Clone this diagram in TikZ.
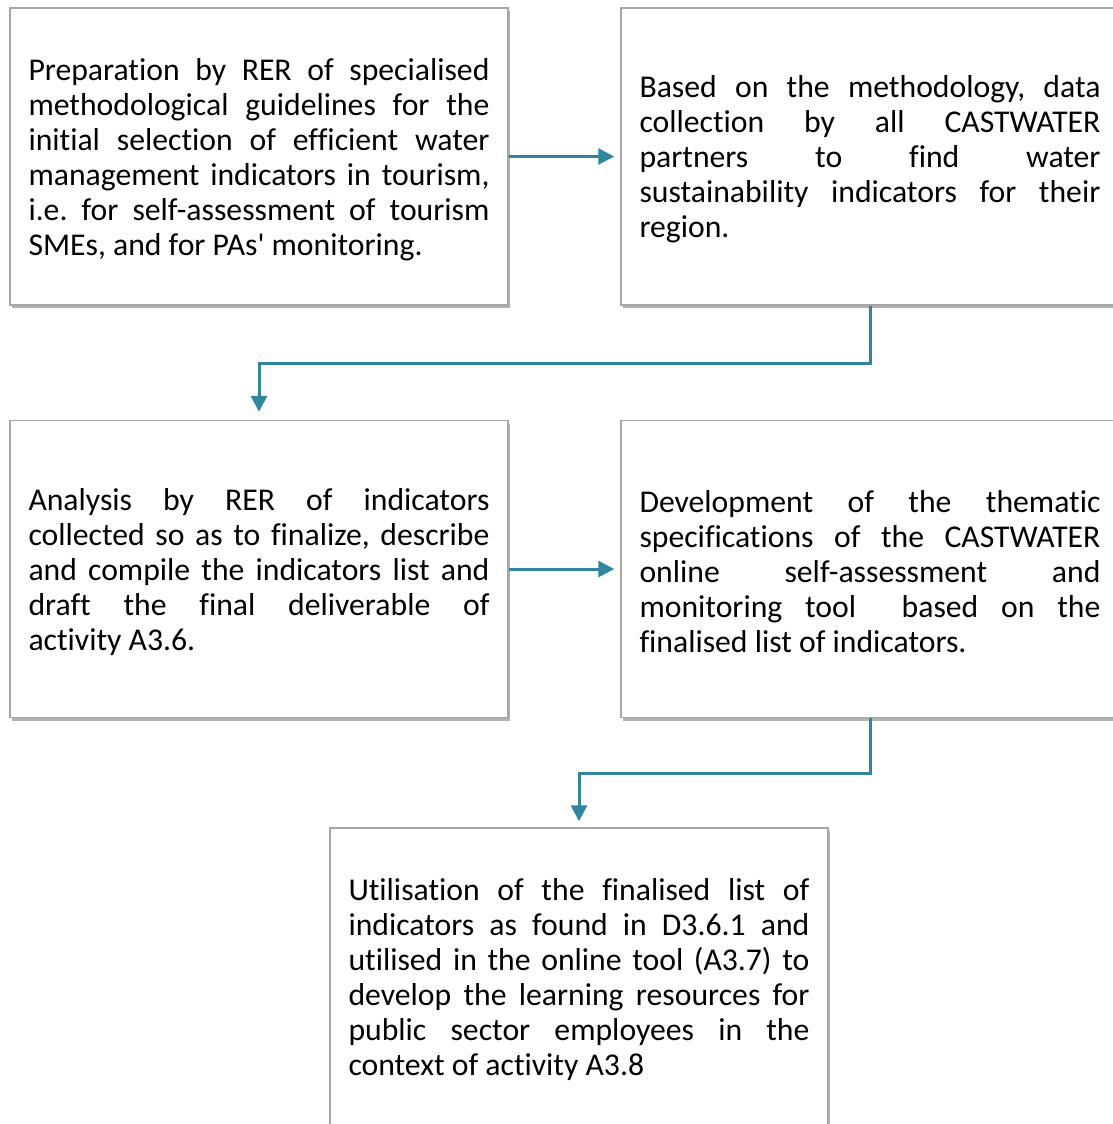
\documentclass[tikz,border=0pt]{standalone}
\usepackage{fontspec}
\setmainfont{Carlito}[Ligatures=NoCommon]
\usetikzlibrary{arrows.meta,shadows}
\definecolor{arrowc}{HTML}{31859C}
\definecolor{boxc}{HTML}{A6A6A6}
\newcommand{\boxtail}{\endgraf\vspace*{-6pt}}
\begin{document}
\frenchspacing
\tolerance=10000
\begin{tikzpicture}[x=1pt,y=-1pt,
  box/.style={draw=boxc, line width=1.5pt, fill=white,
    minimum width=498pt, minimum height=297pt,
    text width=461pt, inner xsep=18.5pt, inner ysep=0pt, align=justify,
    font=\fontsize{31.7}{35}\selectfont,
    execute at end node={\boxtail},
    drop shadow={shadow xshift=2pt, shadow yshift=-3pt, opacity=0.3, fill=black}},
  flow/.style={draw=arrowc, line width=3pt, -{Triangle[length=16pt,width=16pt]}}]
\fill[white] (0,0) rectangle (1113,1124);
\useasboundingbox (0,0) rectangle (1113,1124);

\node[box] (b1) at (259,156.5) {Preparation by RER of specialised\linebreak
methodological guidelines for the\linebreak
initial selection of efficient water\linebreak
management indicators in tourism,\linebreak
i.e. for self-assessment of tourism\linebreak
SMEs, and for PAs\textquotesingle\ monitoring.};

\node[box] (b2) at (870,156.5) {Based on the methodology, data\linebreak
collection by all CASTWATER\linebreak
partners to find water\linebreak
sustainability indicators for their\linebreak
region.};

\node[box] (b3) at (259,569) {Analysis by RER of indicators\linebreak
collected so as to finalize, describe\linebreak
and compile the indicators list and\linebreak
draft the final deliverable of\linebreak
activity A3.6.};

\node[box] (b4) at (870,569) {Development of the thematic\linebreak
specifications of the CASTWATER\linebreak
online self-assessment and\linebreak
monitoring tool\ \ based on the\linebreak
finalised list of indicators.};

\node[box] (b5) at (579,976.5) {Utilisation of the finalised list of\linebreak
indicators as found in D3.6.1 and\linebreak
utilised in the online tool (A3.7) to\linebreak
develop the learning resources for\linebreak
public sector employees in the\linebreak
context of activity A3.8};

\draw[flow, shorten >=6pt] (b1.east) -- (b2.west);
\draw[flow, shorten >=8pt] (b2.south) -- ++(0,58) -| (b3.north);
\draw[flow, shorten >=6pt] (b3.east) -- (b4.west);
\draw[flow, shorten >=6pt] (b4.south) -- ++(0,55) -| (b5.north);
\end{tikzpicture}
\end{document}
